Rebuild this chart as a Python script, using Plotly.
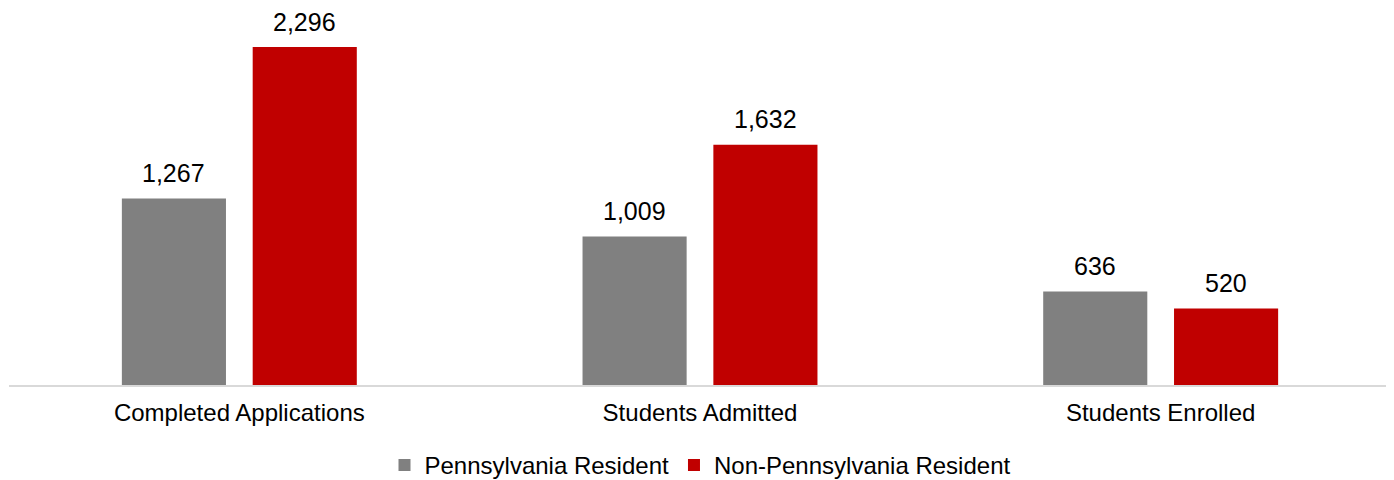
import plotly.graph_objects as go

categories = ["Completed Applications", "Students Admitted", "Students Enrolled"]
pa_resident = [1267, 1009, 636]
non_pa_resident = [2296, 1632, 520]
series_names = ["Pennsylvania Resident", "Non-Pennsylvania Resident"]
colors = ["#808080", "#C00000"]

x_pos = list(range(len(categories)))
bar_w = 0.226
offsets = [-0.255, 0.029]

fig = go.Figure()
for name, vals, col, off in zip(series_names, [pa_resident, non_pa_resident], colors, offsets):
    fig.add_trace(go.Bar(
        x=x_pos, y=vals, name=name, marker_color=col, marker_line_width=0,
        width=bar_w, offset=off, hoverinfo="skip",
    ))
    for xi, v in zip(x_pos, vals):
        fig.add_annotation(
            x=xi + off + bar_w / 2, y=v, xref="x", yref="y",
            text=f"{v:,}", showarrow=False, yanchor="bottom", yshift=10.5,
            borderpad=0,
            font=dict(family="Liberation Sans, Arial", size=25, color="#000000"),
        )

fig.update_layout(
    width=1394, height=480,
    margin=dict(l=1, r=11, t=0, b=103),
    paper_bgcolor="white", plot_bgcolor="white",
    barmode="overlay",
    font=dict(family="Liberation Sans, Arial", color="#000000"),
    showlegend=True,
    legend=dict(orientation="h", x=0.5, xanchor="center", y=-0.215, yanchor="middle",
                font=dict(size=24), traceorder="normal"),
    xaxis=dict(range=[-0.5, 2.5], tickvals=x_pos, ticktext=categories,
               showgrid=False, zeroline=False, showline=True, linecolor="#d9d9d9",
               linewidth=2, ticks="", tickfont=dict(size=24), ticklabelstandoff=5),
    yaxis=dict(range=[0, 2561], visible=False, showgrid=False, zeroline=False),
)

fig.write_html("out.html", config={"displayModeBar": False})
